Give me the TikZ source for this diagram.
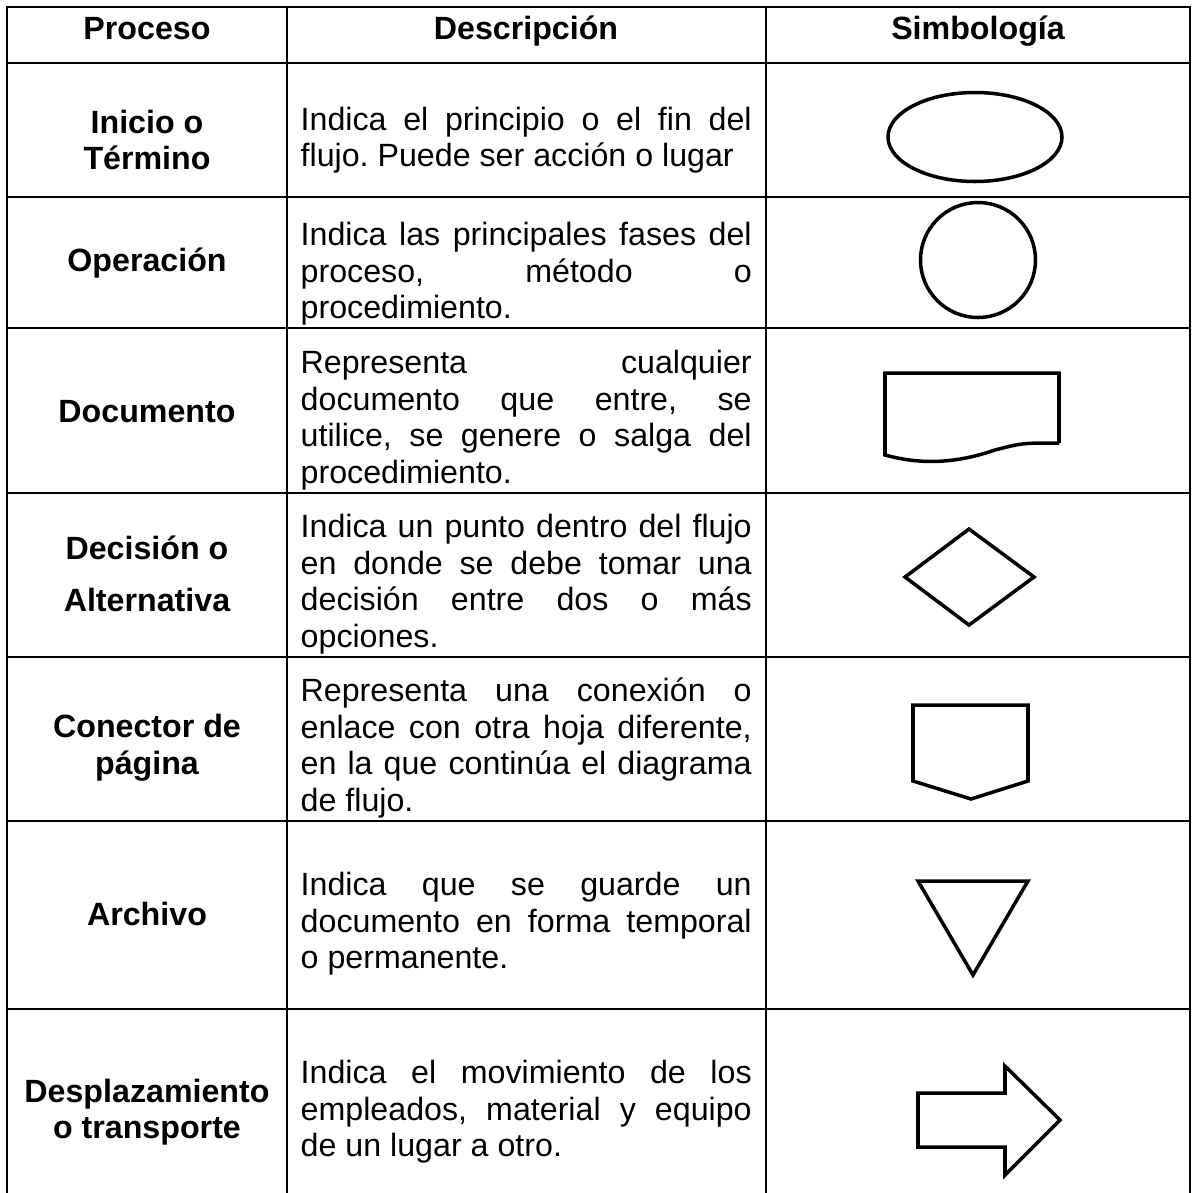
\documentclass[tikz,border=0pt]{standalone}
\usepackage{fontspec}
\setmainfont{Liberation Sans}
\hyphenpenalty=10000
\exhyphenpenalty=10000
\tolerance=10000
\frenchspacing
\begin{document}
\begin{tikzpicture}[x=0.1mm,y=-0.1mm,
    rule/.style={line width=0.6pt},
    symbol/.style={line width=1pt, line join=miter},
    head/.style={font=\fontsize{9.16}{10.4}\selectfont\bfseries, anchor=base, inner sep=0},
    proc/.style={font=\fontsize{9.16}{10.4}\selectfont\bfseries, align=center, inner sep=0},
    desc/.style={font=\fontsize{9.16}{10.4}\selectfont, text width=45.1mm,
                 align=justify, anchor=west, inner sep=0}]
        \useasboundingbox (0,0) rectangle (1193,1193);

        % Draw table grid
        \draw[rule] (7,1193) -- (7,7) -- (1190,7) -- (1190,1193);
        \foreach \x in {287,766}
            \draw[rule] (\x,7) -- (\x,1193);
        \foreach \y in {63,197,328,493,657,821,1009}
            \draw[rule] (7,\y) -- (1190,\y);

        % Header
        \node[head] (hproc) at (147,39) {Proceso};
        \node[head] (hdesc) at (526,39) {Descripción};
        \node[head] (hsym) at (978,39) {Simbología};

        % Process names
        \node[proc] (inicio) at (147,140) {Inicio o\\Término};
        \node[proc] (operacion) at (147,263) {Operación};
        \node[proc] (documento) at (147,412) {Documento};
        \node[proc] (decision) at (147,574) {Decisión o\\[1.6mm]Alternativa};
        \node[proc] (conector) at (147,748) {Conector de\\página};
        \node[proc] (archivo) at (147,914) {Archivo};
        \node[proc] (desplaz) at (147,1112) {Desplazamiento\\o transporte};

        % Descriptions
        \node[desc] (dinicio) at (300,140) {Indica el principio o el fin del\linebreak
            flujo. Puede ser acción o lugar};
        \node[desc] (doperacion) at (300,274) {Indica las principales fases del\linebreak
            proceso, método o\linebreak procedimiento.};
        \node[desc] (ddocumento) at (300,420) {Representa cualquier\linebreak
            documento que entre, se\linebreak utilice, se genere o salga del\linebreak
            procedimiento.};
        \node[desc] (ddecision) at (300,584) {Indica un punto dentro del flujo\linebreak
            en donde se debe tomar una\linebreak decisión entre dos o más\linebreak
            opciones.};
        \node[desc] (dconector) at (300,748) {Representa una conexión o\linebreak
            enlace con otra hoja diferente,\linebreak en la que continúa el diagrama\linebreak
            de flujo.};
        \node[desc] (darchivo) at (300,924) {Indica que se guarde un\linebreak
            documento en forma temporal\linebreak o permanente.};
        \node[desc] (ddesplaz) at (300,1112) {Indica el movimiento de los\linebreak
            empleados, material y equipo\linebreak de un lugar a otro.};

        % Draw symbols
        \draw[symbol] (975,137) ellipse (8.7mm and 4.45mm);
        \draw[symbol] (978,260) circle (5.75mm);
        \draw[symbol] (1059,443) -- (1059,373) -- (885,373) -- (885,455)
            .. controls (925,466) and (960,462) .. (995,450)
            .. controls (1022,443) .. (1059,443);
        \draw[symbol] (969,529) -- (1034,577) -- (969,625) -- (905,577) -- cycle;
        \draw[symbol] (913,705) -- (1028,705) -- (1028,781) -- (971,799) -- (913,781) -- cycle;
        \draw[symbol] (918,881) -- (1028,881) -- (973,975) -- cycle;
        \draw[symbol] (918,1093) -- (1005,1093) -- (1005,1066) -- (1060,1120)
            -- (1005,1175) -- (1005,1147) -- (918,1147) -- cycle;

\end{tikzpicture}
\end{document}
